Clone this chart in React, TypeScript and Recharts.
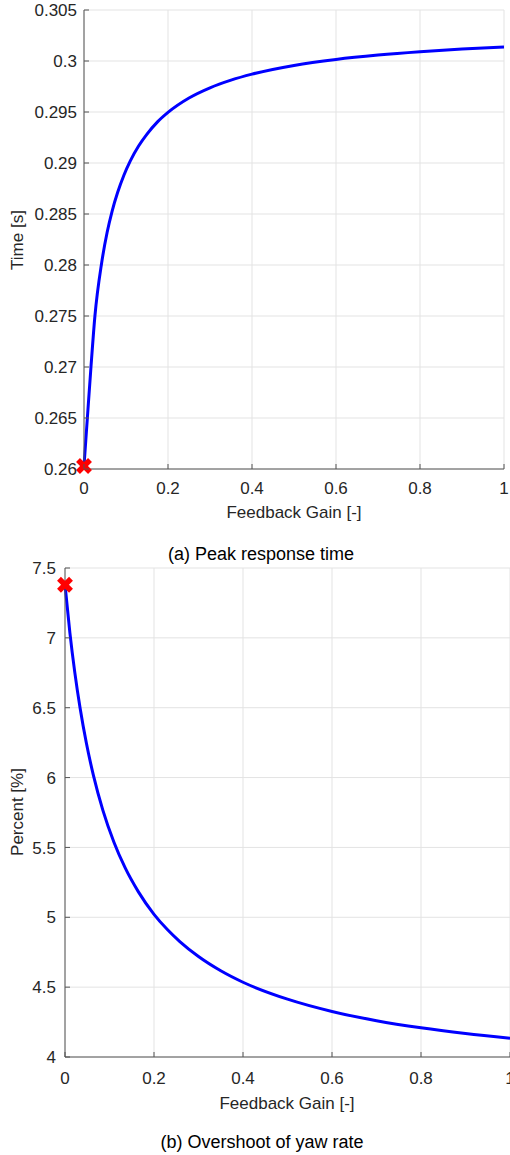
import React from 'react';
import { ComposedChart, Line, XAxis, YAxis, CartesianGrid, ReferenceDot } from 'recharts';

// (a) Peak response time vs feedback gain
const gainA = [0, 0.008, 0.0166, 0.026, 0.042, 0.055, 0.067, 0.08, 0.095, 0.11, 0.13, 0.15, 0.175, 0.2, 0.25, 0.3, 0.35, 0.4, 0.5, 0.6, 0.7, 0.8, 0.9, 1.0];
const peakTime = [0.2603, 0.265, 0.27, 0.275, 0.2802, 0.28318, 0.28529, 0.2871, 0.2888, 0.29018, 0.29166, 0.29283, 0.29403, 0.29496, 0.29637, 0.29737, 0.29812, 0.29871, 0.29956, 0.30015, 0.30058, 0.30091, 0.30117, 0.30137];

// (b) Overshoot of yaw rate vs feedback gain
const gainB = [0, 0.011, 0.022, 0.034, 0.048, 0.064, 0.085, 0.11, 0.135, 0.165, 0.2, 0.23, 0.258, 0.3, 0.35, 0.4, 0.5, 0.6, 0.7, 0.8, 0.9, 1.0];
const overshoot = [7.38, 7.036, 6.753, 6.496, 6.247, 6.014, 5.767, 5.537, 5.355, 5.182, 5.021, 4.912, 4.826, 4.719, 4.617, 4.535, 4.414, 4.326, 4.26, 4.209, 4.168, 4.134];

// Highlighted starting points (gain = 0)
const startA = { gain: 0, value: 0.2603 };
const startB = { gain: 0, value: 7.38 };

const gainTicks = [0, 0.2, 0.4, 0.6, 0.8, 1];
const timeTicks = [0.26, 0.265, 0.27, 0.275, 0.28, 0.285, 0.29, 0.295, 0.3, 0.305];
const percentTicks = [4, 4.5, 5, 5.5, 6, 6.5, 7, 7.5];

const xTitle = 'Feedback Gain [-]';
const yTitleA = 'Time [s]';
const yTitleB = 'Percent [%]';
const captionA = '(a) Peak response time';
const captionB = '(b) Overshoot of yaw rate';

const dataA = gainA.map((g, i) => ({ gain: g, value: peakTime[i] }));
const dataB = gainB.map((g, i) => ({ gain: g, value: overshoot[i] }));

const FONT = '"Liberation Sans", Arial, Helvetica, sans-serif';
const AXIS = '#555555';
const TEXT = '#262626';
const GRID = '#e3e3e3';
const TICK_LEN = 5;

const fmt = (v: number) => String(parseFloat(v.toFixed(4)));

// Bottom axis tick: inward tick mark plus label below the axis
const makeXTick = (gap: number) => (props: any) => {
  const { x, y, payload } = props;
  const axisY = y - gap;
  return (
    <g>
      <line x1={x} x2={x} y1={axisY} y2={axisY - TICK_LEN} stroke={AXIS} strokeWidth={1} />
      <text x={x} y={y} dy="0.71em" textAnchor="middle" fill={TEXT} fontSize={17} fontFamily={FONT}>
        {fmt(payload.value)}
      </text>
    </g>
  );
};

// Left axis tick: inward tick mark plus label left of the axis
const makeYTick = (gap: number) => (props: any) => {
  const { x, y, payload } = props;
  const axisX = x + gap;
  return (
    <g>
      <line x1={axisX} x2={axisX + TICK_LEN} y1={y} y2={y} stroke={AXIS} strokeWidth={1} />
      <text x={x} y={y} dy="0.36em" textAnchor="end" fill={TEXT} fontSize={17} fontFamily={FONT}>
        {fmt(payload.value)}
      </text>
    </g>
  );
};

// Filled red cross marker
const CrossMarker = (props: any) => {
  const { cx, cy } = props;
  const s = 6;
  return (
    <g>
      <line x1={cx - s} y1={cy - s} x2={cx + s} y2={cy + s} stroke="#ff0000" strokeWidth={5.5} />
      <line x1={cx - s} y1={cy + s} x2={cx + s} y2={cy - s} stroke="#ff0000" strokeWidth={5.5} />
    </g>
  );
};

export default function App() {
  return (
    <div
      style={{
        position: 'absolute',
        left: 0,
        top: 0,
        width: 510,
        height: 1155,
        background: '#fff',
        overflow: 'hidden',
        fontFamily: FONT,
      }}
    >
      <div style={{ position: 'absolute', left: 0, top: 0 }}>
        <ComposedChart width={510} height={530} data={dataA} margin={{ top: 10, right: 6, bottom: 21, left: 0 }}>
          <CartesianGrid stroke={GRID} strokeWidth={1} />
          <XAxis
            type="number"
            dataKey="gain"
            domain={[0, 1]}
            ticks={gainTicks}
            interval={0}
            height={40}
            tickSize={0}
            tickMargin={13}
            tickLine={false}
            axisLine={{ stroke: AXIS, strokeWidth: 1 }}
            tick={makeXTick(13)}
          />
          <YAxis
            type="number"
            domain={[0.26, 0.305]}
            ticks={timeTicks}
            interval={0}
            width={84}
            tickSize={0}
            tickMargin={7}
            tickLine={false}
            axisLine={{ stroke: AXIS, strokeWidth: 1 }}
            tick={makeYTick(7)}
          />
          <Line
            type="monotone"
            dataKey="value"
            stroke="#0000ff"
            strokeWidth={3}
            dot={false}
            activeDot={false}
            isAnimationActive={false}
          />
          <ReferenceDot x={startA.gain} y={startA.value} r={6} ifOverflow="visible" shape={CrossMarker} />
        </ComposedChart>
      </div>

      <div style={{ position: 'absolute', left: 0, top: 540 }}>
        <ComposedChart width={510} height={560} data={dataB} margin={{ top: 28, right: 0, bottom: 3, left: 0 }}>
          <CartesianGrid stroke={GRID} strokeWidth={1} />
          <XAxis
            type="number"
            dataKey="gain"
            domain={[0, 1]}
            ticks={gainTicks}
            interval={0}
            height={40}
            tickSize={0}
            tickMargin={15}
            tickLine={false}
            axisLine={{ stroke: AXIS, strokeWidth: 1 }}
            tick={makeXTick(15)}
          />
          <YAxis
            type="number"
            domain={[4, 7.5]}
            ticks={percentTicks}
            interval={0}
            width={65}
            tickSize={0}
            tickMargin={9}
            tickLine={false}
            axisLine={{ stroke: AXIS, strokeWidth: 1 }}
            tick={makeYTick(9)}
          />
          <Line
            type="monotone"
            dataKey="value"
            stroke="#0000ff"
            strokeWidth={3}
            dot={false}
            activeDot={false}
            isAnimationActive={false}
          />
          <ReferenceDot x={startB.gain} y={startB.value} r={6} ifOverflow="visible" shape={CrossMarker} />
        </ComposedChart>
      </div>

      {/* Axis titles and sub-figure captions */}
      <svg
        width={510}
        height={1155}
        style={{ position: 'absolute', left: 0, top: 0, pointerEvents: 'none' }}
        fontFamily={FONT}
      >
        <text x={294} y={518} textAnchor="middle" fontSize={17} fill={TEXT}>{xTitle}</text>
        <text
          x={0}
          y={0}
          transform="translate(23,240) rotate(-90)"
          textAnchor="middle"
          fontSize={17}
          fill={TEXT}
        >
          {yTitleA}
        </text>
        <text x={261} y={560} textAnchor="middle" fontSize={18} fill="#000">{captionA}</text>

        <text x={287} y={1109} textAnchor="middle" fontSize={17} fill={TEXT}>{xTitle}</text>
        <text
          x={0}
          y={0}
          transform="translate(23,812) rotate(-90)"
          textAnchor="middle"
          fontSize={17}
          fill={TEXT}
        >
          {yTitleB}
        </text>
        <text x={262} y={1148} textAnchor="middle" fontSize={18} fill="#000">{captionB}</text>
      </svg>
    </div>
  );
}
